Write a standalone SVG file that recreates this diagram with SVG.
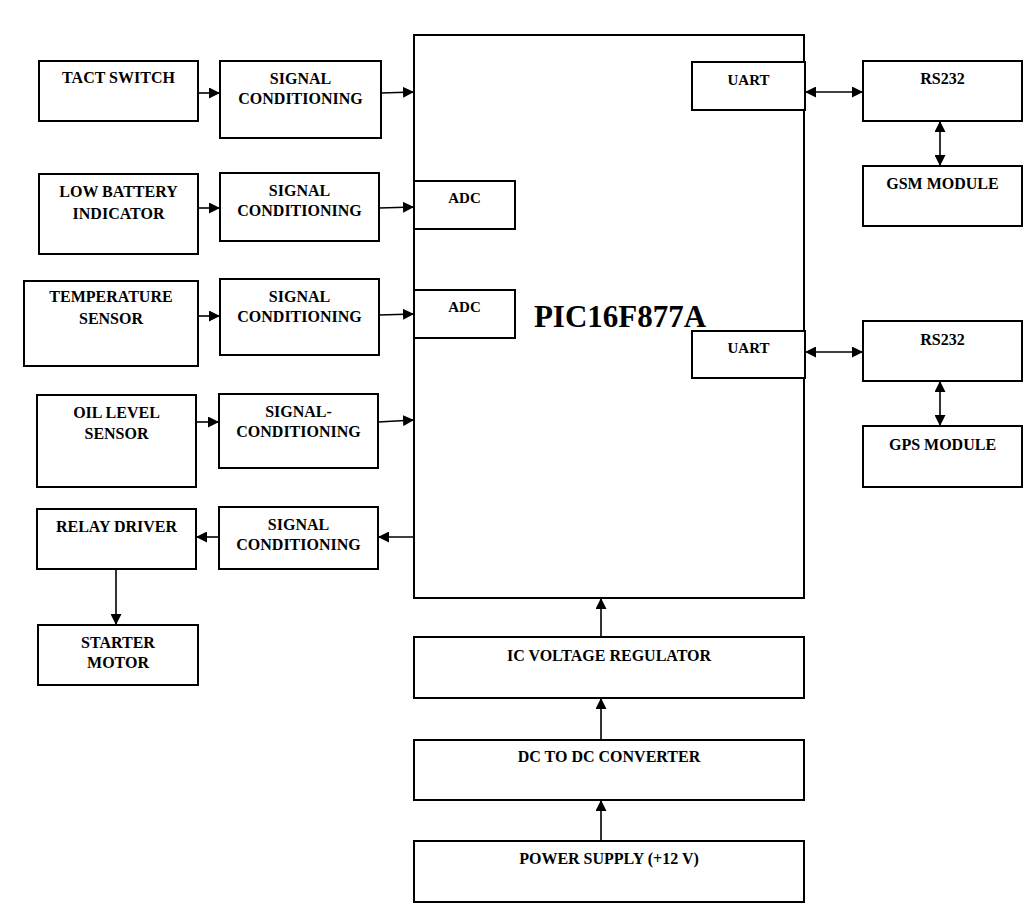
<svg xmlns="http://www.w3.org/2000/svg" width="1036" height="906" viewBox="0 0 1036 906">
<style>
.b{fill:#fff;stroke:#000;stroke-width:2}
.t{font-family:"Liberation Serif","Times New Roman",serif;font-weight:bold;font-size:16px;text-anchor:middle;fill:#000}
.s{font-size:15px}
.c{stroke:#000;stroke-width:1.6;fill:none}
</style>
<defs>
<marker id="a" viewBox="0 0 10 10" refX="10" refY="5" markerWidth="11" markerHeight="11" markerUnits="userSpaceOnUse" orient="auto-start-reverse">
<path d="M0,0 L10,5 L0,10 z" fill="#000"/>
</marker>
</defs>
<rect width="1036" height="906" fill="#fff"/>

<g id="pic">
<rect class="b" x="414" y="35" width="390" height="563"/>
<text class="t" x="620" y="327" style="font-size:31px">PIC16F877A</text>
</g>
<g id="uart1"><rect class="b" x="692" y="62" width="113" height="48"/><text class="t s" x="748.5" y="85">UART</text></g>
<g id="uart2"><rect class="b" x="692" y="331" width="113" height="47"/><text class="t s" x="748.5" y="353">UART</text></g>
<g id="adc1"><rect class="b" x="414" y="181" width="101" height="48"/><text class="t s" x="464.5" y="203">ADC</text></g>
<g id="adc2"><rect class="b" x="414" y="290" width="101" height="48"/><text class="t s" x="464.5" y="312">ADC</text></g>

<g id="tact"><rect class="b" x="39" y="61" width="159" height="60"/><text class="t" x="118.5" y="83">TACT SWITCH</text></g>
<g id="sc1"><rect class="b" x="220" y="61" width="161" height="77"/><text class="t" x="300.5" y="84">SIGNAL</text><text class="t" x="300.5" y="104">CONDITIONING</text></g>

<g id="lowbat"><rect class="b" x="39" y="174" width="159" height="80"/><text class="t" x="118.5" y="197">LOW BATTERY</text><text class="t" x="118.5" y="219">INDICATOR</text></g>
<g id="sc2"><rect class="b" x="220" y="173" width="159" height="68"/><text class="t" x="299.5" y="196">SIGNAL</text><text class="t" x="299.5" y="216">CONDITIONING</text></g>

<g id="temp"><rect class="b" x="24" y="281" width="174" height="85"/><text class="t" x="111" y="302">TEMPERATURE</text><text class="t" x="111" y="324">SENSOR</text></g>
<g id="sc3"><rect class="b" x="220" y="279" width="159" height="76"/><text class="t" x="299.5" y="302">SIGNAL</text><text class="t" x="299.5" y="322">CONDITIONING</text></g>

<g id="oil"><rect class="b" x="37" y="395" width="159" height="92"/><text class="t" x="116.5" y="418">OIL LEVEL</text><text class="t" x="116.5" y="439">SENSOR</text></g>
<g id="sc4"><rect class="b" x="219" y="394" width="159" height="74"/><text class="t" x="298.5" y="417">SIGNAL-</text><text class="t" x="298.5" y="437">CONDITIONING</text></g>

<g id="relay"><rect class="b" x="37" y="509" width="159" height="60"/><text class="t" x="116.5" y="532">RELAY DRIVER</text></g>
<g id="sc5"><rect class="b" x="219" y="507" width="159" height="62"/><text class="t" x="298.5" y="530">SIGNAL</text><text class="t" x="298.5" y="550">CONDITIONING</text></g>
<g id="starter"><rect class="b" x="38" y="625" width="160" height="60"/><text class="t" x="118" y="648">STARTER</text><text class="t" x="118" y="668">MOTOR</text></g>

<g id="rs1"><rect class="b" x="863" y="61" width="159" height="60"/><text class="t" x="942.5" y="84">RS232</text></g>
<g id="gsm"><rect class="b" x="863" y="166" width="159" height="60"/><text class="t" x="942.5" y="189">GSM MODULE</text></g>
<g id="rs2"><rect class="b" x="863" y="321" width="159" height="60"/><text class="t" x="942.5" y="345">RS232</text></g>
<g id="gps"><rect class="b" x="863" y="426" width="159" height="61"/><text class="t" x="942.5" y="450">GPS MODULE</text></g>

<g id="reg"><rect class="b" x="414" y="637" width="390" height="61"/><text class="t" x="609" y="661">IC VOLTAGE REGULATOR</text></g>
<g id="dcdc"><rect class="b" x="414" y="740" width="390" height="60"/><text class="t" x="609" y="762">DC TO DC CONVERTER</text></g>
<g id="psu"><rect class="b" x="414" y="841" width="390" height="61"/><text class="t" x="609" y="864">POWER SUPPLY (+12 V)</text></g>

<g id="connectors">
<line class="c" x1="198" y1="93" x2="220" y2="93" marker-end="url(#a)"/>
<line class="c" x1="381" y1="93" x2="414" y2="92" marker-end="url(#a)"/>
<line class="c" x1="198" y1="208" x2="220" y2="208" marker-end="url(#a)"/>
<line class="c" x1="379" y1="208" x2="414" y2="207" marker-end="url(#a)"/>
<line class="c" x1="198" y1="316" x2="220" y2="316" marker-end="url(#a)"/>
<line class="c" x1="379" y1="315" x2="414" y2="314" marker-end="url(#a)"/>
<line class="c" x1="196" y1="422" x2="219" y2="422" marker-end="url(#a)"/>
<line class="c" x1="378" y1="422" x2="414" y2="420" marker-end="url(#a)"/>
<line class="c" x1="414" y1="537" x2="378" y2="537" marker-end="url(#a)"/>
<line class="c" x1="219" y1="537" x2="196" y2="537" marker-end="url(#a)"/>
<line class="c" x1="116" y1="569" x2="116" y2="625" marker-end="url(#a)"/>
<line class="c" x1="805" y1="92" x2="863" y2="92" marker-start="url(#a)" marker-end="url(#a)"/>
<line class="c" x1="940" y1="121" x2="940" y2="166" marker-start="url(#a)" marker-end="url(#a)"/>
<line class="c" x1="805" y1="352" x2="863" y2="352" marker-start="url(#a)" marker-end="url(#a)"/>
<line class="c" x1="940" y1="381" x2="940" y2="426" marker-start="url(#a)" marker-end="url(#a)"/>
<line class="c" x1="601" y1="637" x2="601" y2="598" marker-end="url(#a)"/>
<line class="c" x1="601" y1="740" x2="601" y2="698" marker-end="url(#a)"/>
<line class="c" x1="601" y1="841" x2="601" y2="800" marker-end="url(#a)"/>
</g>
</svg>
